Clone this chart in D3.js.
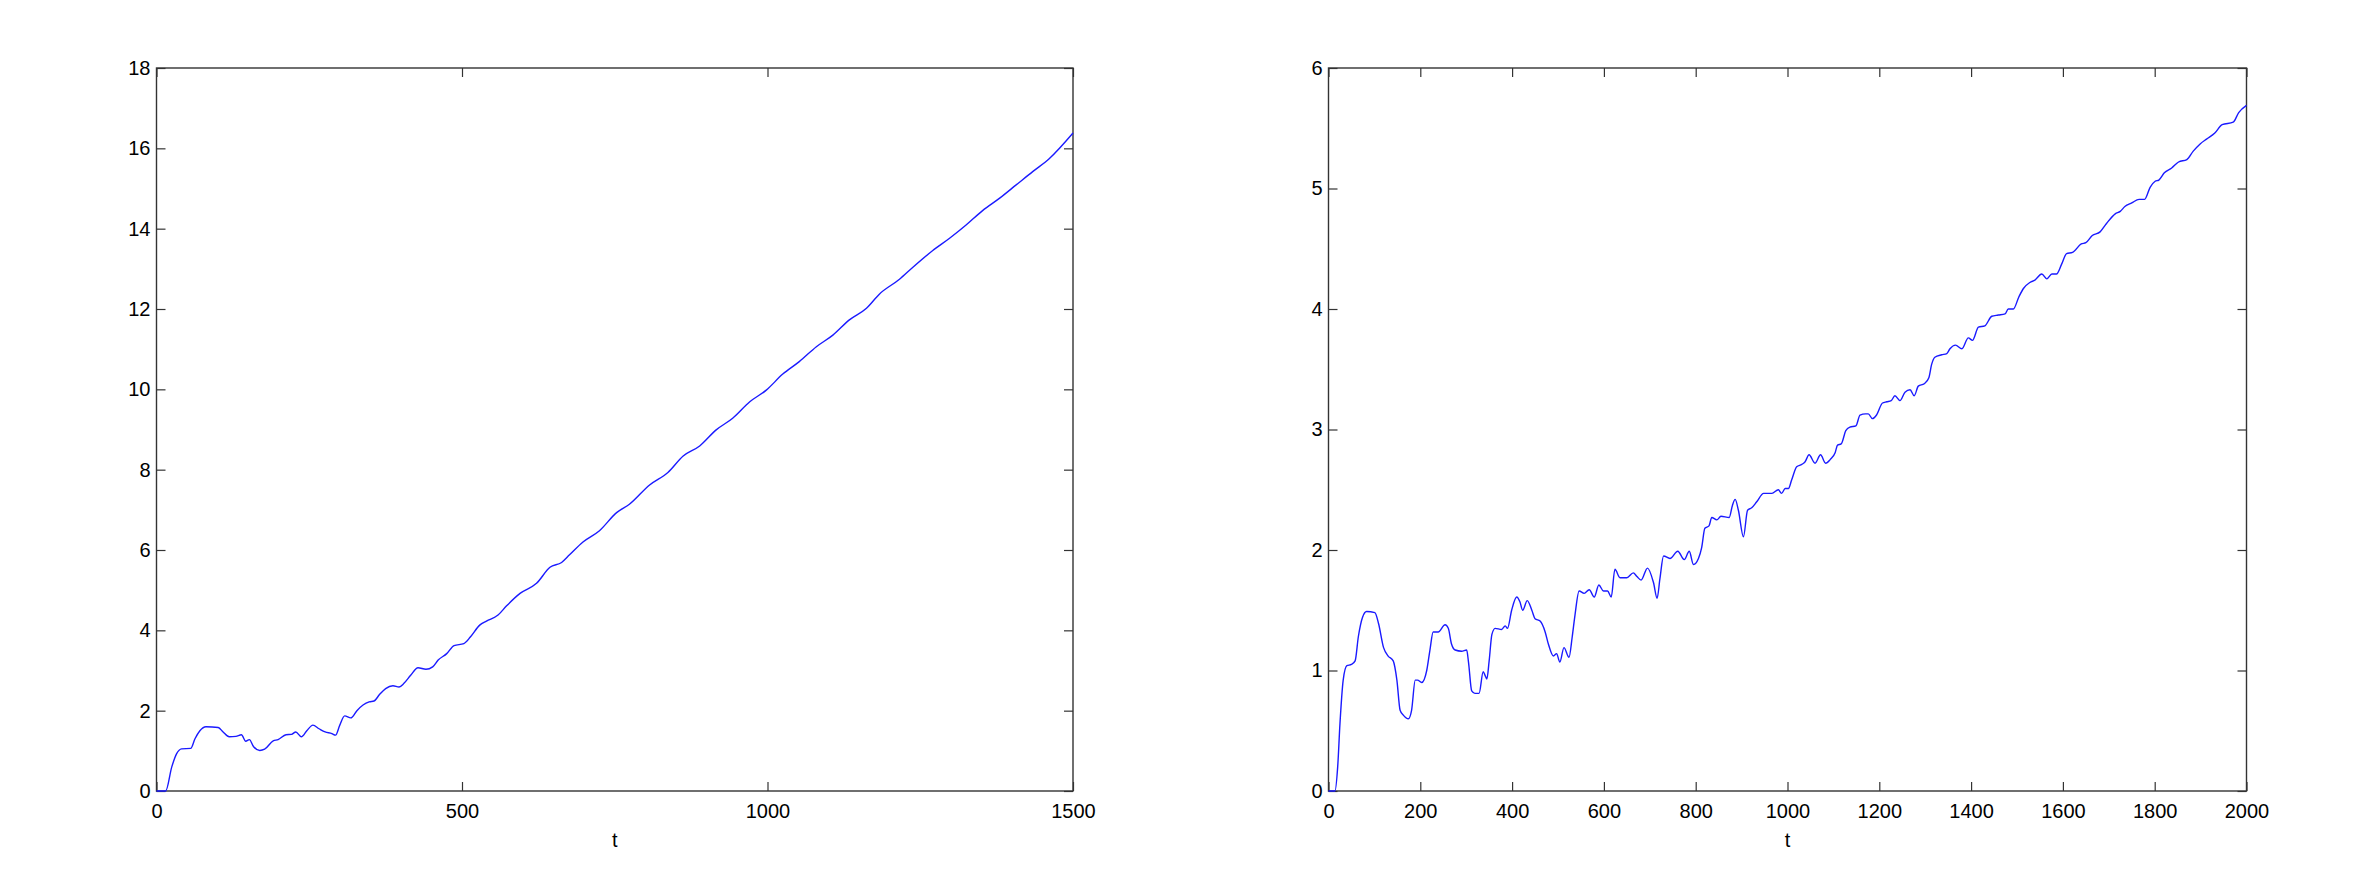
<!DOCTYPE html>
<html>
<head>
<meta charset="utf-8">
<script src="https://cdn.jsdelivr.net/npm/d3@7"></script>
<style>
  html, body { margin: 0; padding: 0; background: #fff; }
  svg { display: block; }
  .tick text { font-family: "Liberation Sans", Arial, Helvetica, sans-serif; font-size: 20px; fill: #000; }
  .lbl { font-family: "Liberation Sans", Arial, Helvetica, sans-serif; font-size: 20px; fill: #000; }
</style>
</head>
<body>
<svg id="chart" width="2362" height="891"></svg>
<script>
// ---------- Data ----------
// Left panel
const leftT = [0, 15, 25, 33, 41, 56, 63, 71, 81, 101, 109, 119, 130, 139, 146, 152, 159, 169, 177, 191, 199, 212, 221, 228, 237, 246, 256, 266, 276, 287, 293, 300, 308, 318, 328, 338, 348, 356, 365, 375, 387, 397, 405, 416, 428, 441, 452, 461, 475, 487, 503, 514, 529, 540, 559, 573, 595, 622, 644, 663, 676, 698, 725, 753, 774, 807, 837, 862, 889, 916, 943, 971, 998, 1025, 1052, 1080, 1107, 1134, 1162, 1183, 1216, 1238, 1270, 1298, 1325, 1352, 1380, 1407, 1434, 1461, 1500];
const leftV = [0, 0, 0.6, 0.93, 1.05, 1.06, 1.3, 1.5, 1.6, 1.58, 1.47, 1.35, 1.36, 1.4, 1.24, 1.28, 1.10, 1.01, 1.04, 1.25, 1.28, 1.40, 1.41, 1.47, 1.35, 1.50, 1.64, 1.55, 1.47, 1.43, 1.39, 1.64, 1.87, 1.82, 2.0, 2.14, 2.22, 2.24, 2.40, 2.55, 2.62, 2.59, 2.68, 2.88, 3.07, 3.03, 3.09, 3.26, 3.42, 3.62, 3.67, 3.84, 4.13, 4.23, 4.38, 4.61, 4.92, 5.17, 5.57, 5.69, 5.88, 6.2, 6.48, 6.93, 7.14, 7.62, 7.93, 8.34, 8.59, 8.99, 9.28, 9.69, 9.98, 10.38, 10.69, 11.06, 11.35, 11.73, 12.02, 12.37, 12.74, 13.04, 13.45, 13.76, 14.09, 14.45, 14.76, 15.09, 15.42, 15.74, 16.38];

// Right panel
const rightT = [0, 14, 20, 25, 32, 40, 50, 58, 65, 74, 83, 101, 109, 120, 130, 141, 149, 156, 163, 174, 181, 189, 194, 203, 214, 221, 228, 239, 254, 261, 268, 276, 290, 301, 305, 312, 319, 328, 337, 341, 345, 350, 356, 363, 377, 385, 390, 399, 410, 417, 423, 433, 443, 450, 461, 472, 479, 490, 497, 504, 513, 524, 531, 537, 546, 557, 568, 579, 589, 599, 608, 616, 624, 635, 650, 664, 672, 681, 695, 708, 716, 722, 730, 744, 761, 775, 786, 795, 806, 813, 820, 829, 835, 846, 855, 873, 880, 886, 893, 904, 913, 922, 933, 948, 966, 980, 987, 995, 1002, 1009, 1020, 1031, 1038, 1047, 1060, 1072, 1083, 1093, 1104, 1109, 1117, 1127, 1136, 1149, 1158, 1170, 1176, 1185, 1194, 1207, 1216, 1226, 1234, 1245, 1256, 1267, 1276, 1285, 1298, 1308, 1314, 1321, 1336, 1347, 1354, 1366, 1380, 1394, 1403, 1416, 1430, 1445, 1459, 1474, 1481, 1492, 1504, 1514, 1528, 1539, 1554, 1565, 1576, 1586, 1597, 1608, 1621, 1640, 1650, 1664, 1681, 1695, 1714, 1725, 1735, 1750, 1766, 1778, 1790, 1801, 1809, 1821, 1837, 1852, 1870, 1884, 1899, 1913, 1931, 1947, 1971, 1983, 2000];
const rightV = [0, 0, 0.2, 0.56, 0.92, 1.04, 1.05, 1.08, 1.28, 1.44, 1.49, 1.48, 1.39, 1.19, 1.12, 1.08, 0.92, 0.67, 0.63, 0.60, 0.67, 0.92, 0.92, 0.90, 1.0, 1.17, 1.32, 1.32, 1.38, 1.35, 1.22, 1.17, 1.16, 1.17, 1.07, 0.83, 0.81, 0.81, 0.99, 0.96, 0.93, 1.08, 1.30, 1.35, 1.34, 1.37, 1.35, 1.50, 1.61, 1.57, 1.50, 1.58, 1.50, 1.43, 1.41, 1.32, 1.22, 1.12, 1.14, 1.07, 1.19, 1.11, 1.28, 1.46, 1.66, 1.64, 1.67, 1.61, 1.71, 1.66, 1.66, 1.61, 1.84, 1.77, 1.77, 1.81, 1.78, 1.75, 1.85, 1.73, 1.60, 1.76, 1.95, 1.93, 1.99, 1.92, 1.99, 1.88, 1.93, 2.02, 2.18, 2.20, 2.27, 2.25, 2.28, 2.27, 2.37, 2.42, 2.33, 2.11, 2.33, 2.35, 2.40, 2.47, 2.47, 2.50, 2.47, 2.51, 2.51, 2.58, 2.69, 2.71, 2.73, 2.79, 2.72, 2.79, 2.72, 2.75, 2.81, 2.87, 2.88, 2.99, 3.02, 3.03, 3.12, 3.13, 3.13, 3.09, 3.12, 3.22, 3.23, 3.24, 3.28, 3.24, 3.31, 3.33, 3.28, 3.36, 3.38, 3.43, 3.54, 3.60, 3.62, 3.63, 3.67, 3.70, 3.67, 3.76, 3.74, 3.85, 3.86, 3.94, 3.95, 3.96, 4.00, 4.00, 4.10, 4.17, 4.22, 4.24, 4.29, 4.25, 4.29, 4.29, 4.37, 4.46, 4.47, 4.54, 4.55, 4.61, 4.64, 4.71, 4.79, 4.81, 4.85, 4.88, 4.91, 4.91, 5.01, 5.06, 5.07, 5.13, 5.17, 5.22, 5.24, 5.31, 5.37, 5.41, 5.46, 5.53, 5.55, 5.63, 5.69];

// Tick values
const leftXTicks = [0, 500, 1000, 1500];
const leftYTicks = [0, 2, 4, 6, 8, 10, 12, 14, 16, 18];
const rightXTicks = [0, 200, 400, 600, 800, 1000, 1200, 1400, 1600, 1800, 2000];
const rightYTicks = [0, 1, 2, 3, 4, 5, 6];
const xLabel = "t";

// ---------- Drawing ----------
const svg = d3.select("#chart");

function panel(cfg) {
  const { x0, x1, y0, y1, xDom, yDom, xTicks, yTicks, T, V } = cfg;
  const x = d3.scaleLinear().domain(xDom).range([x0, x1]);
  const y = d3.scaleLinear().domain(yDom).range([y1, y0]);
  const g = svg.append("g");
  const axisColor = "#333";
  const tk = 9;

  const bottom = g.append("g").attr("transform", `translate(0,${y1})`)
    .call(d3.axisBottom(x).tickValues(xTicks).tickSizeInner(-tk).tickSizeOuter(0).tickPadding(13).tickFormat(d3.format("d")));
  const top = g.append("g").attr("transform", `translate(0,${y0})`)
    .call(d3.axisTop(x).tickValues(xTicks).tickSizeInner(-tk).tickSizeOuter(0).tickFormat(""));
  const left = g.append("g").attr("transform", `translate(${x0},0)`)
    .call(d3.axisLeft(y).tickValues(yTicks).tickSizeInner(-tk).tickSizeOuter(0).tickPadding(6).tickFormat(d3.format("d")));
  const right = g.append("g").attr("transform", `translate(${x1},0)`)
    .call(d3.axisRight(y).tickValues(yTicks).tickSizeInner(-tk).tickSizeOuter(0).tickFormat(""));
  [bottom, top, left, right].forEach(a => {
    a.select(".domain").remove();
    a.selectAll(".tick line").attr("stroke", axisColor).attr("stroke-width", 1.2);
  });

  // frame
  g.append("rect").attr("x", x0).attr("y", y0).attr("width", x1 - x0).attr("height", y1 - y0)
    .attr("fill", "none").attr("stroke", axisColor).attr("stroke-width", 1.4);

  const data = T.map((t, i) => [t, V[i]]);
  g.append("path").datum(data)
    .attr("fill", "none").attr("stroke", "#1a1aff").attr("stroke-width", 1.4)
    .attr("stroke-linejoin", "round")
    .attr("d", d3.line().x(d => x(d[0])).y(d => y(d[1])).curve(d3.curveMonotoneX));

  g.append("text").attr("class", "lbl").attr("x", (x0 + x1) / 2).attr("y", 847)
    .attr("text-anchor", "middle").text(xLabel);
}

panel({ x0: 156.5, x1: 1073, y0: 68, y1: 791, xDom: [0, 1500], yDom: [0, 18],
  xTicks: leftXTicks, yTicks: leftYTicks, T: leftT, V: leftV });
panel({ x0: 1328.5, x1: 2246.5, y0: 68, y1: 791, xDom: [0, 2000], yDom: [0, 6],
  xTicks: rightXTicks, yTicks: rightYTicks, T: rightT, V: rightV });
</script>
</body>
</html>
